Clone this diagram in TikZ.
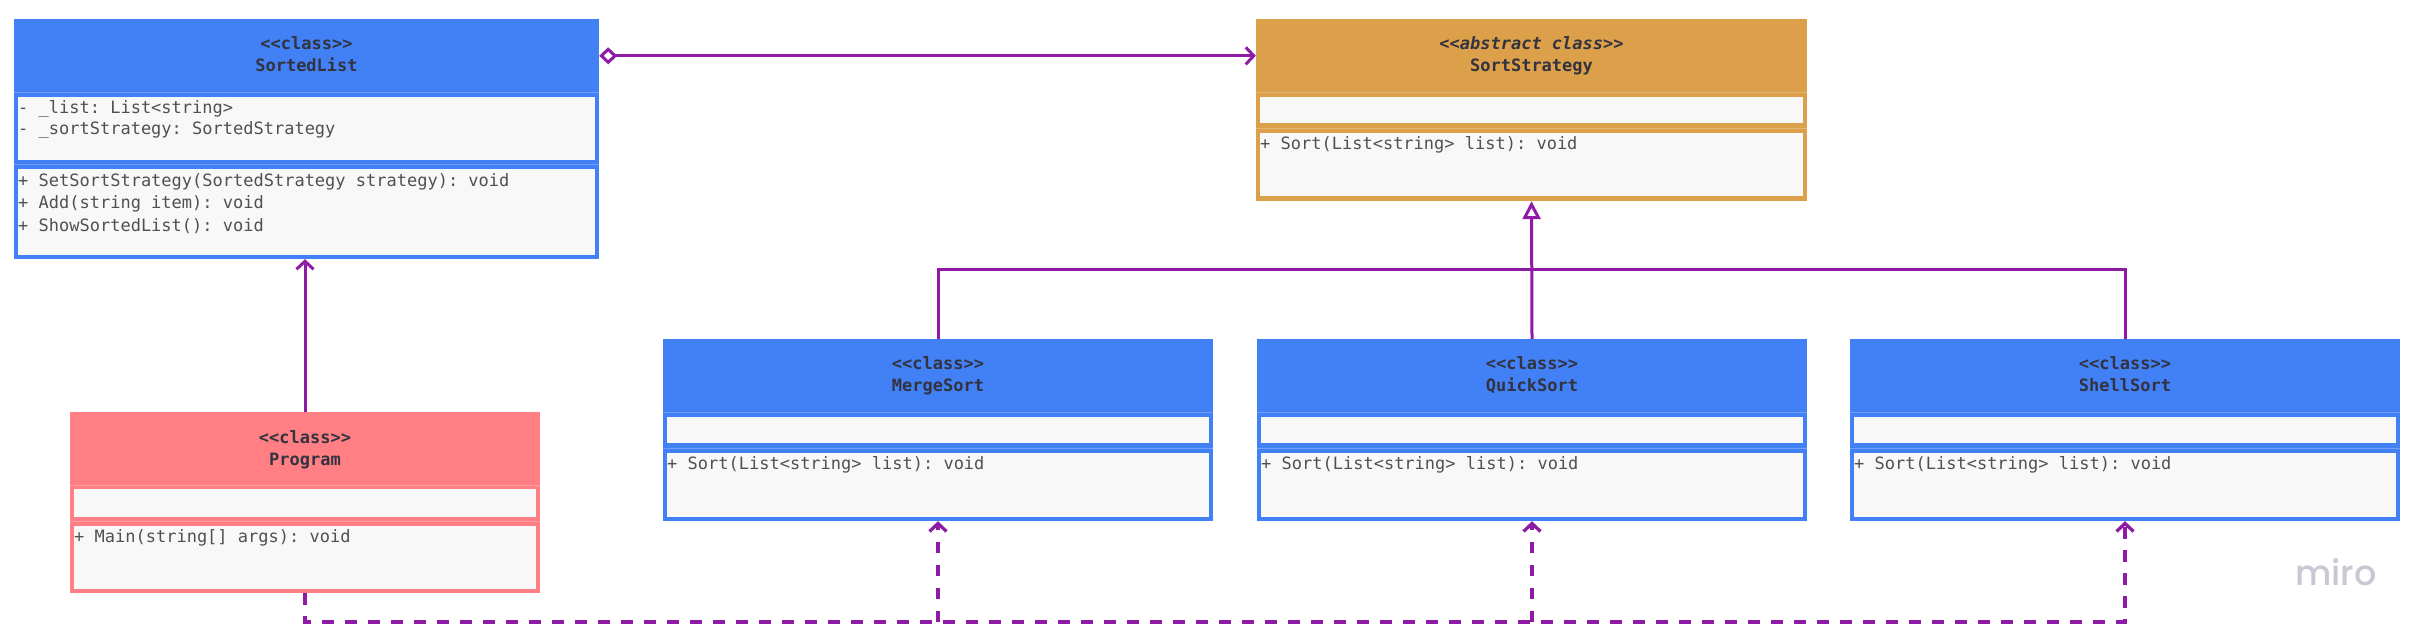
\documentclass[tikz,border=0pt]{standalone}
\usepackage{fontspec}
\setmonofont{DejaVu Sans Mono}
\newfontfamily\mirofont{Poppins}[UprightFont={Poppins Medium}]
\usetikzlibrary{arrows.meta,calc}
\definecolor{ublue}{HTML}{4280F6}
\definecolor{uorange}{HTML}{DCA04A}
\definecolor{upink}{HTML}{FF7F85}
\definecolor{ulight}{HTML}{F8F8F8}
\definecolor{upurple}{HTML}{8E1AA5}
\definecolor{uhead}{HTML}{333340}
\definecolor{ubody}{HTML}{505050}
\definecolor{umiro}{HTML}{C8C8D4}
\begin{document}
\begin{tikzpicture}[x=1pt,y=-1pt,
  classbox/.style={rectangle, inner sep=0pt, draw=none},
  comp/.style={fill=ulight},
  sep/.style={draw=white, draw opacity=0.25, line width=1pt},
  headtxt/.style={font=\ttfamily\bfseries\fontsize{17}{22}\selectfont, text=uhead, inner sep=0pt, anchor=base},
  bodytxt/.style={font=\ttfamily\fontsize{17}{22}\selectfont, text=ubody, inner sep=0pt, anchor=base west},
  conn/.style={draw=upurple, line width=3pt},
  dep/.style={conn, line width=3.3pt, dash pattern=on 11.5pt off 11.5pt},
  barbtip/.style={-{Straight Barb[length=8pt,width=17pt]}}
]
\fill[white] (0,0) rectangle (2431,642);
\useasboundingbox (0,0) rectangle (2431,642);

% ---------- class boxes ----------
\node[classbox, fill=ublue, minimum width=585pt, minimum height=240pt] (sl) at (306.5,139) {};
\node[classbox, fill=uorange, minimum width=551pt, minimum height=182pt] (ss) at (1531.5,110) {};
\node[classbox, fill=ublue, minimum width=550pt, minimum height=182pt] (ms) at (938,430) {};
\node[classbox, fill=ublue, minimum width=550pt, minimum height=182pt] (qs) at (1532,430) {};
\node[classbox, fill=ublue, minimum width=550pt, minimum height=182pt] (sh) at (2125,430) {};
\node[classbox, fill=upink, minimum width=470pt, minimum height=181pt] (pr) at (305,502.5) {};

% ---------- compartments ----------
\fill[comp] (18,97) rectangle (595,160);
\fill[comp] (18,169) rectangle (595,255);
\draw[sep] (14,92) -- (599,92); \draw[sep] (14,164.5) -- (599,164.5);

\fill[comp] (1260,97) rectangle (1803,123);
\fill[comp] (1260,133) rectangle (1803,196);
\draw[sep] (1256,92) -- (1807,92); \draw[sep] (1256,128) -- (1807,128);

\fill[comp] (667,417) rectangle (1209,443);
\fill[comp] (667,453) rectangle (1209,517);
\draw[sep] (663,412) -- (1213,412); \draw[sep] (663,448) -- (1213,448);

\fill[comp] (1261,417) rectangle (1803,443);
\fill[comp] (1261,453) rectangle (1803,517);
\draw[sep] (1257,412) -- (1807,412); \draw[sep] (1257,448) -- (1807,448);

\fill[comp] (1854,417) rectangle (2396,443);
\fill[comp] (1854,453) rectangle (2396,517);
\draw[sep] (1850,412) -- (2400,412); \draw[sep] (1850,448) -- (2400,448);

\fill[comp] (74,489) rectangle (536,517);
\fill[comp] (74,526) rectangle (536,589);
\draw[sep] (70,485) -- (540,485); \draw[sep] (70,521.5) -- (540,521.5);

% ---------- texts ----------
\node[headtxt] (slst) at (306.5,49) {<<class>>};
\node[headtxt] (slnm) at (306.5,71) {SortedList};
\node[bodytxt] (sla1) at (18,113) {- \_list: List<string>};
\node[bodytxt] (sla2) at (18,134.5) {- \_sortStrategy: SortedStrategy};
\node[bodytxt] (slm1) at (18,186) {+ SetSortStrategy(SortedStrategy strategy): void};
\node[bodytxt] (slm2) at (18,208.5) {+ Add(string item): void};
\node[bodytxt] (slm3) at (18,231) {+ ShowSortedList(): void};

\node[headtxt, font=\ttfamily\bfseries\itshape\fontsize{17}{22}\selectfont] (ssst) at (1531.5,49) {<<abstract class>>};
\node[headtxt] (ssnm) at (1531.5,71) {SortStrategy};
\node[bodytxt] (ssm1) at (1260,149) {+ Sort(List<string> list): void};

\node[headtxt] (msst) at (938,369) {<<class>>};
\node[headtxt] (msnm) at (938,391) {MergeSort};
\node[bodytxt] (msm1) at (667,469) {+ Sort(List<string> list): void};

\node[headtxt] (qsst) at (1532,369) {<<class>>};
\node[headtxt] (qsnm) at (1532,391) {QuickSort};
\node[bodytxt] (qsm1) at (1261,469) {+ Sort(List<string> list): void};

\node[headtxt] (shst) at (2125,369) {<<class>>};
\node[headtxt] (shnm) at (2125,391) {ShellSort};
\node[bodytxt] (shm1) at (1854,469) {+ Sort(List<string> list): void};

\node[headtxt] (prst) at (305,443) {<<class>>};
\node[headtxt] (prnm) at (305,465) {Program};
\node[bodytxt] (prm1) at (74,542) {+ Main(string[] args): void};

\node[font=\mirofont\fontsize{35}{35}\selectfont, text=umiro, inner sep=0pt, anchor=base] (miro) at (2336,585) {miro};

% ---------- connectors ----------
\draw[conn, {Diamond[fill=white,length=18pt,width=17pt]}-{Straight Barb[length=8pt,width=17pt]}]
  ([yshift=-37pt]sl.north east) -- ([yshift=-37pt]ss.north west);

\draw[conn, barbtip] (pr.north) -- (pr.north |- sl.south);

\coordinate (bus) at (1532,269);
\draw[conn] (ms.north) |- (bus) -| (sh.north);
\draw[conn, -{Triangle[fill=white,length=18pt,width=18pt]}] (qs.north) -- (ss.south);

\coordinate (dbus) at (2125,622);
\draw[dep, barbtip] (pr.south) |- (dbus) -- (sh.south);
\draw[dep, barbtip] (ms.south |- dbus) -- (ms.south);
\draw[dep, barbtip] (qs.south |- dbus) -- (qs.south);
\end{tikzpicture}
\end{document}
